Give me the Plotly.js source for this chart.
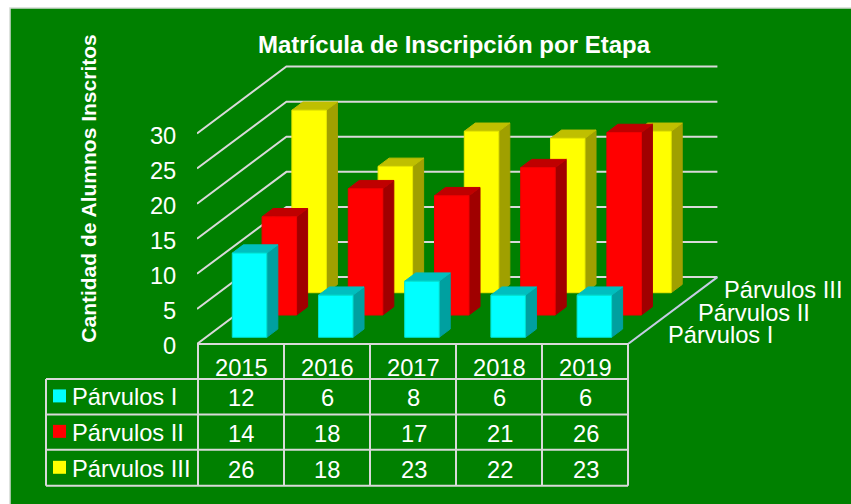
<!DOCTYPE html>
<html><head><meta charset="utf-8">
<script src="https://cdn.plot.ly/plotly-3.0.1.min.js"></script>
<style>html,body{margin:0;padding:0;background:#fff}#c{width:851px;height:504px}</style>
</head><body><div id="c"></div>
<script>
// ---- data ----
const years = ['2015','2016','2017','2018','2019'];
const seriesNames = ['Párvulos I','Párvulos II','Párvulos III'];
const parvulosI = [12,6,8,6,6];
const parvulosII = [14,18,17,21,26];
const parvulosIII = [26,18,23,22,23];
const valueTicks = [0,5,10,15,20,25,30];
const chartTitle = 'Matrícula de Inscripción por Etapa';
const yTitle = 'Cantidad de Alumnos Inscritos';

// ---- styling / geometry ----
const W=851,H=504,L=197,T=33,B0=344.5;
const catPx=86.2, valPx=7.03, depthXPx=29.8, depthYPx=22.33;
const barW=34.5/catPx, barD=0.37, depthPad=0.30;
const dx=d=>d*depthXPx/catPx, dy=d=>d*depthYPx/valPx;
const faces=[
  {front:'#00FFFF',top:'#00BFBF',side:'#00A0A0',edge:'#00E0D0'},
  {front:'#FF0000',top:'#BF0000',side:'#A00000',edge:'#F00000'},
  {front:'#FFFF00',top:'#BFBF00',side:'#A0A000',edge:'#E8E800'}];
const grid='#D9D9D9', font='"Liberation Sans", Arial, sans-serif', fs=23.7;
const all=[parvulosI,parvulosII,parvulosIII];
const traces=[];
// walls
const gx=[],gy=[];
valueTicks.forEach(v=>{
  gx.push(0,dx(3),5+dx(3),null); gy.push(v,v+dy(3),v+dy(3),null);
});
traces.push({x:gx,y:gy,mode:'lines',line:{color:grid,width:2},hoverinfo:'skip',cliponaxis:false});
traces.push({x:[5,5+dx(3)],y:[0,dy(3)],mode:'lines',line:{color:'#C4CCE4',width:2},hoverinfo:'skip',cliponaxis:false});
// bars: back series first
for(let s=2;s>=0;s--){
  const f={x:[],y:[]},t={x:[],y:[]},r={x:[],y:[]};
  const d0=s+depthPad;
  all[s].forEach((v,i)=>{
    const x0=i+0.5-barW/2+dx(d0)+0.5/catPx,x1=x0+barW;
    const y0=dy(d0),y1=y0+v;
    const sx=dx(barD),sy=dy(barD);
    f.x.push(x0,x1,x1,x0,x0,null);f.y.push(y0,y0,y1,y1,y0,null);
    r.x.push(x1,x1+sx,x1+sx,x1,x1,null);r.y.push(y0,y0+sy,y1+sy,y1,y0,null);
    t.x.push(x0,x1,x1+sx,x0+sx,x0,null);t.y.push(y1,y1,y1+sy,y1+sy,y1,null);
  });
  const c=faces[s];
  [[r,c.side],[t,c.top],[f,c.front]].forEach(([p,col],k)=>{
    traces.push({x:p.x,y:p.y,mode:'lines',fill:'toself',fillcolor:col,
      line:{color:k==2?c.edge:col,width:1},hoverinfo:'skip',cliponaxis:false,name:seriesNames[s]});
  });
}
const px=x=>(x-L)/(W-L), py=y=>(B0-y)/(B0-T);
const shapes=[];
shapes.push({type:'rect',layer:'below',xref:'paper',yref:'paper',x0:px(10),x1:px(W+4),y0:py(H+4),y1:py(8),
  fillcolor:'#008000',line:{color:'#D4DAD4',width:1.5}});
const tline=(x0,y0,x1,y1)=>shapes.push({type:'line',xref:'paper',yref:'paper',x0:px(x0),x1:px(x1),y0:py(y0),y1:py(y1),line:{color:grid,width:2}});
const rows=[379.5,415,450.5,486.5];
rows.forEach(y=>tline(46,y,628,y));
tline(198,344.5,628,344.5);
tline(46,379.5,46,486.5);
[198,284,370,456,542,628].forEach(x=>tline(x,344.5,x,486.5));
const anns=[];
const body={family:font,size:fs,color:'#fff'};
years.forEach((yr,i)=>{
  anns.push({text:yr,x:i+0.5,y:py(369),xref:'x',yref:'paper',xshift:1,showarrow:false,yanchor:'middle',font:body});
  all.forEach((a,s)=>anns.push({text:String(a[i]),x:i+0.5,y:py([399,435,471][s]),xref:'x',yref:'paper',xshift:1,showarrow:false,yanchor:'middle',font:body}));
});
const depthShift=[23.5,23.5,19.5];
seriesNames.forEach((n,s)=>{
  const yc=[396.5,432,468][s];
  shapes.push({type:'rect',xref:'paper',yref:'paper',x0:px(53),x1:px(66),y0:py(yc-6.5),y1:py(yc+6.5),fillcolor:faces[s].front,line:{width:0}});
  anns.push({text:n,x:px(69.5),y:py(yc+1.5),xref:'paper',yref:'paper',xanchor:'left',yanchor:'middle',showarrow:false,font:body});
  // depth axis label
  anns.push({text:n,x:5+dx(s+0.5),y:dy(s+0.5),xref:'x',yref:'y',xshift:depthShift[s],yshift:-2,xanchor:'left',yanchor:'middle',showarrow:false,font:body});
});
const layout={
  width:W,height:H,margin:{l:L,r:0,t:T,b:H-B0,pad:0},
  paper_bgcolor:'#fff',plot_bgcolor:'rgba(0,0,0,0)',showlegend:false,
  title:{text:'<b>'+chartTitle+'</b>',x:454/W,xref:'container',xanchor:'center',y:1-45/H,yref:'container',yanchor:'middle',
    font:{family:font,size:24,color:'#fff'}},
  xaxis:{range:[0,(W-L)/catPx],visible:false,fixedrange:true},
  yaxis:{range:[0,(B0-T)/valPx],tickvals:valueTicks,showgrid:false,zeroline:false,showline:false,
    ticks:'outside',ticklen:15,tickcolor:'rgba(0,0,0,0)',tickfont:body,ticklabelshift:2,fixedrange:true,
    title:{text:'<b>'+yTitle+'</b>',standoff:47,font:{family:font,size:21,color:'#fff'}}},
  shapes,annotations:anns};
Plotly.newPlot('c',traces,layout,{displayModeBar:false,staticPlot:true});
</script></body></html>
